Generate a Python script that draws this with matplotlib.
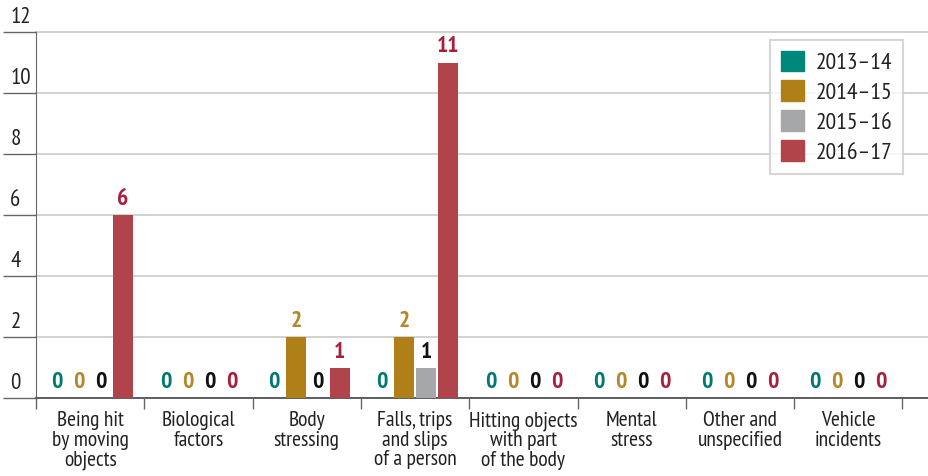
import numpy as np
import matplotlib.pyplot as plt
from matplotlib.patches import Patch

# Data
categories = [
    "Being hit\nby moving\nobjects",
    "Biological\nfactors",
    "Body\nstressing",
    "Falls, trips\nand slips\nof a person",
    "Hitting objects\nwith part\nof the body",
    "Mental\nstress",
    "Other and\nunspecified",
    "Vehicle\nincidents",
]
years = ["2013\u201314", "2014\u201315", "2015\u201316", "2016\u201317"]
v_2013_14 = [0, 0, 0, 0, 0, 0, 0, 0]
v_2014_15 = [0, 0, 2, 2, 0, 0, 0, 0]
v_2015_16 = [0, 0, 0, 1, 0, 0, 0, 0]
v_2016_17 = [6, 0, 1, 11, 0, 0, 0, 0]
series = [v_2013_14, v_2014_15, v_2015_16, v_2016_17]

bar_colors = ["#00877b", "#b08018", "#a6a7a9", "#b0444a"]
label_colors = ["#007a6e", "#b5862a", "#111111", "#a81f3b"]

plt.rcParams["font.family"] = ["PT Sans Narrow", "Roboto Condensed", "DejaVu Sans"]

fig = plt.figure(figsize=(9.29, 4.76), dpi=100)
ax = fig.add_axes([36 / 929, 78 / 476, 1 - 36 / 929, 366 / 476])

x = np.arange(len(categories))
width = 0.185
step = 0.203
offsets = [-1.5 * step, -0.5 * step, 0.5 * step, 1.5 * step]

# --------------------------------------------------------
# Bars and value labels
# --------------------------------------------------------
for vals, off, bc, lc in zip(series, offsets, bar_colors, label_colors):
    bars = ax.bar(x + off, vals, width=width, color=bc, zorder=3)
    for b, v in zip(bars, vals):
        ax.annotate(str(v), (b.get_x() + b.get_width() / 2, v),
                    xytext=(0, 7.2), textcoords="offset points",
                    ha="center", va="baseline", fontsize=17,
                    fontweight="bold", color=lc)

ax.set_ylim(0, 12)
ax.set_xlim(-0.5, -0.5 + 893 / 108.3)

# --------------------------------------------------------
# Y axis: gridlines, outward tick lines, labels above ticks
# --------------------------------------------------------
ax.set_yticks(range(0, 13, 2))
ax.yaxis.grid(True, color="#cfcfcf", linewidth=1.3, zorder=0)
for gl in ax.get_ygridlines():
    gl.set_clip_on(False)
ax.tick_params(axis="y", length=24, width=1, color="#666666", labelleft=False)
for t in range(0, 13, 2):
    ax.annotate(str(t), (0, t), xycoords=("axes fraction", "data"),
                xytext=(-18.5, 6.5), textcoords="offset points",
                ha="left", va="baseline", fontsize=16.5, color="#222222")

# --------------------------------------------------------
# X axis: boundary ticks and category labels
# --------------------------------------------------------
ax.set_xticks(np.arange(len(categories) + 1) - 0.5)
ax.set_xticklabels([])
ax.tick_params(axis="x", length=8, width=1, color="#666666")
for xi, name in zip(x, categories):
    ax.annotate(name, (xi, 0), xycoords="data",
                xytext=(0, -9.5), textcoords="offset points",
                ha="center", va="top", fontsize=15.5, color="#222222",
                linespacing=1.03)

for side in ["top", "right"]:
    ax.spines[side].set_visible(False)
ax.spines["left"].set_color("#666666")
ax.spines["bottom"].set_color("#555555")
ax.spines["bottom"].set_linewidth(1.3)

# --------------------------------------------------------
# Legend
# --------------------------------------------------------
handles = [Patch(color=c) for c in bar_colors]
leg = ax.legend(handles, years, loc="upper right",
                bbox_to_anchor=(1 - 26 / 893, 1 - 8 / 366),
                fontsize=17, frameon=True, fancybox=False,
                handlelength=0.97, handleheight=0.97, handletextpad=0.5,
                labelspacing=0.27, borderpad=0.45, borderaxespad=0)
leg.get_frame().set_edgecolor("#cccccc")
leg.get_frame().set_linewidth(1.5)
for txt in leg.get_texts():
    txt.set_color("#222222")

fig.savefig("out.png", dpi=100)
